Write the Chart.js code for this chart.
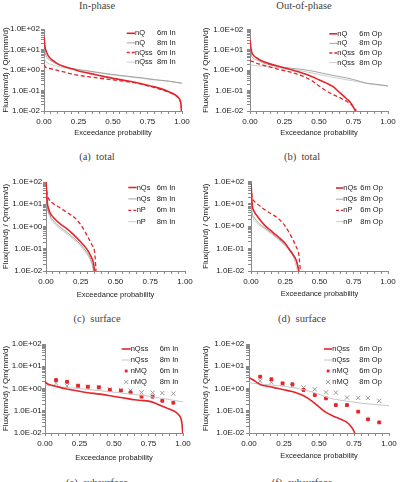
<!DOCTYPE html>
<html>
<head>
<meta charset="utf-8">
<script src="https://cdn.jsdelivr.net/npm/chart.js@4.4.1/dist/chart.umd.min.js"></script>
<style>
  html, body { margin: 0; padding: 0; }
  body { width: 400px; height: 482px; background: #fff; position: relative; overflow: hidden; }
  canvas { position: absolute; }
  .t { position: absolute; font-family: "Times New Roman", "Liberation Serif", serif; font-size: 10.5px;
       font-weight: normal; line-height: 1; transform: translate(-50%, -50%); white-space: pre; color: #444; }
</style>
</head>
<body>
<div class="t" style="left:97px;top:6px">In-phase</div>
<div class="t" style="left:304px;top:6px">Out-of-phase</div>
<div class="t" style="left:97px;top:157px">(a)  total</div>
<div class="t" style="left:302px;top:157px">(b)  total</div>
<div class="t" style="left:97px;top:319px">(c)  surface</div>
<div class="t" style="left:302px;top:319px">(d)  surface</div>
<div class="t" style="left:97px;top:483px">(e)  subsurface</div>
<div class="t" style="left:302px;top:483px">(f)  subsurface</div>

<canvas id="pa"></canvas>
<canvas id="pb"></canvas>
<canvas id="pc"></canvas>
<canvas id="pd"></canvas>
<canvas id="pe"></canvas>
<canvas id="pf"></canvas>

<script>
// tick labels
const xLabels = ['0.00', '0.25', '0.50', '0.75', '1.00'];
const yLabels = ['1.0E-02', '1.0E-01', '1.0E+00', '1.0E+01', '1.0E+02'];

// (a) total, in-phase  [exceedance, flux]
const aQ6 = [[0.001,40],[0.005,18],[0.01,11],[0.02,7],[0.03,5],[0.05,3.5],[0.075,2.6],[0.1,2.0],[0.15,1.45],[0.2,1.15],[0.25,0.9],[0.3,0.76],[0.4,0.54],[0.5,0.39],[0.6,0.3],[0.7,0.22],[0.75,0.18],[0.8,0.15],[0.85,0.12],[0.9,0.09],[0.95,0.062],[0.97,0.048],[0.985,0.035],[0.993,0.02],[0.997,0.01]];
const aQ8 = [[0.001,12],[0.01,6],[0.03,3.5],[0.05,2.8],[0.1,1.9],[0.15,1.45],[0.2,1.2],[0.25,1.05],[0.3,0.95],[0.4,0.75],[0.5,0.6],[0.6,0.5],[0.7,0.42],[0.75,0.38],[0.8,0.34],[0.9,0.29],[1.0,0.23]];
const aQss6 = [[0.001,1.8],[0.01,1.4],[0.05,1.15],[0.1,0.95],[0.15,0.78],[0.2,0.64],[0.25,0.55],[0.3,0.49],[0.4,0.4],[0.5,0.33],[0.6,0.27],[0.7,0.21],[0.75,0.17],[0.8,0.14],[0.85,0.11],[0.9,0.085],[0.95,0.06],[0.97,0.047],[0.985,0.035],[0.993,0.02],[0.997,0.01]];
const aQss8 = [[0.001,4],[0.01,2.8],[0.05,1.9],[0.1,1.5],[0.2,1.1],[0.25,1.0],[0.3,0.9],[0.4,0.72],[0.5,0.58],[0.6,0.48],[0.7,0.4],[0.8,0.33],[0.9,0.28],[1.0,0.22]];

// (b) total, out-of-phase
const bQ6 = [[0.001,30],[0.005,15],[0.01,9],[0.02,6],[0.05,4],[0.1,2.6],[0.15,2.0],[0.2,1.6],[0.25,1.3],[0.3,1.05],[0.35,0.85],[0.4,0.65],[0.45,0.48],[0.5,0.34],[0.55,0.24],[0.6,0.16],[0.65,0.08],[0.7,0.04],[0.73,0.025],[0.75,0.015],[0.765,0.01]];
const bQ8 = [[0.001,15],[0.01,5.5],[0.05,3.2],[0.1,2.2],[0.2,1.6],[0.25,1.4],[0.3,1.25],[0.4,1.05],[0.5,0.78],[0.6,0.56],[0.7,0.42],[0.75,0.35],[0.8,0.28],[0.85,0.23],[0.9,0.21],[1.0,0.17]];
const bQss6 = [[0.001,3],[0.05,2.2],[0.1,1.75],[0.2,1.15],[0.25,0.95],[0.3,0.78],[0.35,0.62],[0.4,0.46],[0.45,0.3],[0.5,0.17],[0.55,0.1],[0.6,0.065],[0.65,0.045],[0.7,0.03],[0.75,0.016],[0.77,0.01]];
const bQss8 = [[0.001,1.8],[0.1,1.55],[0.2,1.35],[0.25,1.25],[0.3,1.1],[0.4,0.86],[0.5,0.62],[0.6,0.45],[0.7,0.34],[0.75,0.3],[0.8,0.26],[0.85,0.22],[0.9,0.2],[1.0,0.17]];

// (c) surface, in-phase
const cQs6 = [[0.001,100],[0.005,30],[0.01,11],[0.02,6],[0.03,4],[0.05,2.7],[0.1,1.35],[0.15,0.8],[0.2,0.42],[0.25,0.2],[0.3,0.085],[0.32,0.05],[0.34,0.025],[0.35,0.01]];
const cQs8 = [[0.001,40],[0.005,12],[0.01,7],[0.03,3],[0.05,1.9],[0.1,0.95],[0.15,0.55],[0.2,0.3],[0.25,0.15],[0.3,0.06],[0.33,0.025],[0.345,0.01]];
const cP6 = [[0.001,80],[0.005,40],[0.01,25],[0.02,17],[0.05,11],[0.1,7],[0.15,4.3],[0.2,2.7],[0.25,1.2],[0.28,0.6],[0.3,0.35],[0.33,0.15],[0.35,0.07],[0.36,0.01]];
const cP8 = [[0.001,30],[0.005,10],[0.01,6],[0.03,2.5],[0.05,1.6],[0.1,0.8],[0.15,0.47],[0.2,0.26],[0.25,0.13],[0.3,0.05],[0.33,0.02],[0.34,0.01]];

// (d) surface, out-of-phase
const dQs6 = [[0.001,80],[0.005,20],[0.01,8],[0.02,5],[0.05,2.6],[0.1,1.1],[0.15,0.6],[0.2,0.33],[0.25,0.17],[0.28,0.09],[0.3,0.06],[0.33,0.03],[0.35,0.01]];
const dQs8 = [[0.001,30],[0.005,6],[0.01,3.5],[0.03,2.2],[0.05,1.5],[0.1,0.85],[0.15,0.5],[0.2,0.28],[0.25,0.15],[0.3,0.07],[0.33,0.03],[0.35,0.01]];
const dP6 = [[0.001,60],[0.005,30],[0.01,18],[0.02,14],[0.05,9.5],[0.1,5.5],[0.15,3.5],[0.2,2.2],[0.25,1.0],[0.28,0.5],[0.3,0.3],[0.33,0.12],[0.35,0.05],[0.36,0.01]];
const dP8 = [[0.001,20],[0.005,5],[0.01,3],[0.05,1.3],[0.1,0.75],[0.15,0.45],[0.2,0.25],[0.25,0.13],[0.3,0.06],[0.34,0.01]];

// (e) subsurface, in-phase
const eQss6 = [[0,2.0],[0.02,1.6],[0.05,1.4],[0.1,1.15],[0.15,0.97],[0.2,0.85],[0.25,0.75],[0.3,0.66],[0.4,0.56],[0.5,0.44],[0.6,0.35],[0.65,0.31],[0.7,0.29],[0.75,0.27],[0.8,0.22],[0.85,0.16],[0.9,0.12],[0.95,0.085],[0.97,0.065],[0.985,0.045],[0.993,0.025],[0.998,0.01]];
const eQss8 = [[0,1.45],[0.05,1.3],[0.1,1.2],[0.2,1.05],[0.3,0.92],[0.4,0.8],[0.5,0.68],[0.6,0.58],[0.7,0.5],[0.8,0.4],[0.9,0.32],[1.0,0.25]];
const mqX = [0.08, 0.16, 0.24, 0.31, 0.39, 0.47, 0.55, 0.62, 0.70, 0.78, 0.85, 0.93];
const eMQ6 = [2.4, 2.0, 1.34, 1.2, 1.13, 0.86, 0.8, 0.67, 0.43, 0.43, 0.28, 0.23];
const eMQ8 = [1.7, 1.3, 1.3, 1.2, 1.1, 0.92, 0.86, 0.8, 0.67, 0.65, 0.63, 0.59];

// (f) subsurface, out-of-phase
const fQss6 = [[0,3.0],[0.03,2.4],[0.05,2.0],[0.08,1.5],[0.1,1.35],[0.15,1.2],[0.2,1.02],[0.25,0.88],[0.3,0.75],[0.35,0.6],[0.4,0.44],[0.45,0.27],[0.5,0.15],[0.55,0.085],[0.6,0.058],[0.65,0.043],[0.7,0.03],[0.73,0.019],[0.75,0.012],[0.755,0.01]];
const fQss8 = [[0,1.8],[0.1,1.55],[0.2,1.35],[0.25,1.25],[0.3,1.12],[0.4,0.86],[0.45,0.7],[0.5,0.55],[0.55,0.42],[0.6,0.34],[0.7,0.27],[0.8,0.22],[0.9,0.19],[1.0,0.17]];
const fMQ6 = [3.4, 2.6, 1.7, 1.55, 0.86, 0.51, 0.36, 0.18, 0.18, 0.091, 0.041, 0.03];
const fMQ8 = [2.2, 1.9, 1.6, 1.3, 1.1, 0.92, 0.67, 0.65, 0.39, 0.38, 0.38, 0.28];

const RED = '#e3262b', GREY = '#9a9a9a', LIGHT = '#c6c6c6';
const FONT = '"Liberation Sans", Arial, sans-serif';

const xTickVals = [];
for (let i = 0; i <= 20; i++) xTickVals.push(i / 20);
const yTickVals = [];
for (let e = -2; e < 2; e++) for (let m = 1; m < 10; m++) yTickVals.push(m * Math.pow(10, e));
yTickVals.push(100);

function line(label, arr, color, width, dash) {
    return {
        label, data: arr.map(p => ({ x: p[0], y: p[1] })), showLine: true,
        borderColor: color, backgroundColor: color, borderWidth: width, borderDash: dash || [],
        pointRadius: 0, cubicInterpolationMode: 'monotone'
    };
}
function dots(label, ys, color, style, r) {
    return {
        label, data: mqX.map((x, i) => ({ x, y: ys[i] })), showLine: false,
        pointStyle: style, pointRadius: r, borderColor: color, backgroundColor: color, borderWidth: 1
    };
}

function drawMark(ctx, ds, x, y) {
    const s = ds.pointRadius * Math.SQRT1_2;
    if (ds.pointStyle === 'rect') {
        ctx.fillRect(x - s, y - s, 2 * s, 2 * s);
    } else {
        ctx.lineWidth = ds.borderWidth;
        ctx.beginPath();
        ctx.moveTo(x - s, y - s); ctx.lineTo(x + s, y + s);
        ctx.moveTo(x + s, y - s); ctx.lineTo(x - s, y + s);
        ctx.stroke();
    }
}

// legend inside plot, no frame
const innerLegend = {
    id: 'innerLegend',
    afterDatasetsDraw(chart, args, o) {
        const ctx = chart.ctx, a = chart.chartArea;
        ctx.save();
        ctx.font = '7.5px ' + FONT;
        ctx.textBaseline = 'middle';
        chart.data.datasets.forEach((ds, i) => {
            const x0 = a.left + o.x, y = a.top + o.y + i * o.dy;
            ctx.save();
            ctx.strokeStyle = ds.borderColor;
            ctx.fillStyle = ds.backgroundColor;
            if (ds.showLine) {
                ctx.lineWidth = ds.borderWidth;
                ctx.setLineDash(ds.borderDash.length ? [3, 2] : []);
                ctx.beginPath(); ctx.moveTo(x0, y); ctx.lineTo(x0 + o.len, y); ctx.stroke();
            } else {
                drawMark(ctx, ds, x0 + o.len / 2, y);
            }
            ctx.restore();
            const parts = ds.label.split(/\s+/);
            ctx.fillStyle = '#222';
            ctx.fillText(parts[0], x0 + o.len, y);
            ctx.fillText(parts.slice(1).join(' '), x0 + o.len + o.col, y);
        });
        ctx.restore();
    }
};

const panels = [
    { id: 'pa', L: 44, T: 29, R: 182, B: 111, yw: 50, ypad: 1, ytp: 7.2, xh: 26,
      leg: { x: 82.7, y: 4.3, dy: 9.6, col: 22, len: 8.3 },
      ds: [line('nQ 6m In', aQ6, RED, 1.6), line('nQ 8m In', aQ8, GREY, 0.9),
           line('nQss 6m In', aQss6, RED, 1.3, [4, 2.5]), line('nQss 8m In', aQss8, LIGHT, 0.9)] },
    { id: 'pb', L: 250, T: 29, R: 388, B: 111, yw: 50, ypad: 3.7, ytp: 1.2, xh: 26,
      leg: { x: 79.3, y: 4.3, dy: 9.6, col: 22, len: 8 },
      ds: [line('nQ 6m Op', bQ6, RED, 1.6), line('nQ 8m Op', bQ8, GREY, 0.9),
           line('nQss 6m Op', bQss6, RED, 1.3, [4, 2.5]), line('nQss 8m Op', bQss8, LIGHT, 0.9)] },
    { id: 'pc', L: 46, T: 182, R: 185, B: 271, yw: 50, ypad: 0.7, ytp: 5.2, xh: 28,
      leg: { x: 82.3, y: 5.5, dy: 11.4, col: 20, len: 8.4 },
      ds: [line('nQs 6m In', cQs6, RED, 1.6), line('nQs 8m In', cQs8, GREY, 0.9),
           line('nP 6m In', cP6, RED, 1.3, [4, 2.5]), line('nP 8m In', cP8, LIGHT, 0.9)] },
    { id: 'pd', L: 251, T: 181, R: 388, B: 271, yw: 50, ypad: 3.7, ytp: 0.2, xh: 27,
      leg: { x: 85, y: 6.5, dy: 11.2, col: 17, len: 7.3 },
      ds: [line('nQs 6m Op', dQs6, RED, 1.6), line('nQs 8m Op', dQs8, GREY, 0.9),
           line('nP 6m Op', dP6, RED, 1.3, [4, 2.5]), line('nP 8m Op', dP8, LIGHT, 0.9)] },
    { id: 'pe', L: 45, T: 344, R: 183, B: 433, yw: 50, ypad: 0.3, ytp: 6.2, xh: 29,
      leg: { x: 76.7, y: 5, dy: 11, col: 29, len: 9 },
      ds: [line('nQss 6m In', eQss6, RED, 1.6), line('nQss 8m In', eQss8, LIGHT, 1),
           dots('nMQ 6m In', eMQ6, RED, 'rect', 2), dots('nMQ 8m In', eMQ8, GREY, 'crossRot', 3)] },
    { id: 'pf', L: 249, T: 344, R: 389, B: 433, yw: 50, ypad: 1.7, ytp: 2.2, xh: 27,
      leg: { x: 75, y: 5, dy: 11, col: 27, len: 8.3 },
      ds: [line('nQss 6m Op', fQss6, RED, 1.6), line('nQss 8m Op', fQss8, LIGHT, 1),
           dots('nMQ 6m Op', fMQ6, RED, 'rect', 2), dots('nMQ 8m Op', fMQ8, GREY, 'crossRot', 3)] }
];

document.addEventListener('DOMContentLoaded', () => {
    panels.forEach(p => {
        const cv = document.getElementById(p.id);
        cv.width = p.R - p.L + p.yw + 12;
        cv.height = p.B - p.T + 8 + p.xh;
        cv.style.left = (p.L - p.yw) + 'px';
        cv.style.top = (p.T - 8) + 'px';

        new Chart(cv, {
            type: 'scatter',
            data: { datasets: p.ds },
            plugins: [innerLegend],
            options: {
                responsive: false,
                animation: false,
                layout: { padding: { top: 8, right: 12, left: 0, bottom: 0 } },
                plugins: { legend: { display: false }, tooltip: { enabled: false }, innerLegend: p.leg },
                scales: {
                    x: {
                        type: 'linear', min: 0, max: 1,
                        afterBuildTicks: s => { s.ticks = xTickVals.map(v => ({ value: v })); },
                        afterFit: s => { s.height = p.xh; },
                        ticks: {
                            autoSkip: false, maxRotation: 0, padding: 3, color: '#222',
                            font: { family: FONT, size: 8 },
                            callback: v => {
                                const k = Math.round(v * 4);
                                return Math.abs(v * 4 - k) < 1e-6 ? xLabels[k] : '';
                            }
                        },
                        grid: { drawOnChartArea: false, tickLength: 3, color: '#8a8a8a' },
                        border: { color: '#8a8a8a' },
                        title: { display: true, text: 'Exceedance probability', color: '#222',
                                 font: { family: FONT, size: 7.5 }, padding: 0 }
                    },
                    y: {
                        type: 'logarithmic', min: 0.01, max: 100,
                        afterBuildTicks: s => { s.ticks = yTickVals.map(v => ({ value: v })); },
                        afterFit: s => { s.width = p.yw; },
                        ticks: {
                            autoSkip: false, padding: p.ypad, color: '#222',
                            font: { family: FONT, size: 8 },
                            callback: v => {
                                const e = Math.log10(v), k = Math.round(e);
                                return Math.abs(e - k) < 1e-6 ? yLabels[k + 2] : '';
                            }
                        },
                        grid: { drawOnChartArea: false, tickLength: 3, color: '#8a8a8a' },
                        border: { color: '#8a8a8a' },
                        title: { display: true, text: 'Flux(mm/d) / Qm(mm/d)', color: '#222',
                                 font: { family: FONT, size: 8 }, padding: { top: p.ytp, bottom: 0 } }
                    }
                }
            }
        });
    });
});
</script>
</body>
</html>
